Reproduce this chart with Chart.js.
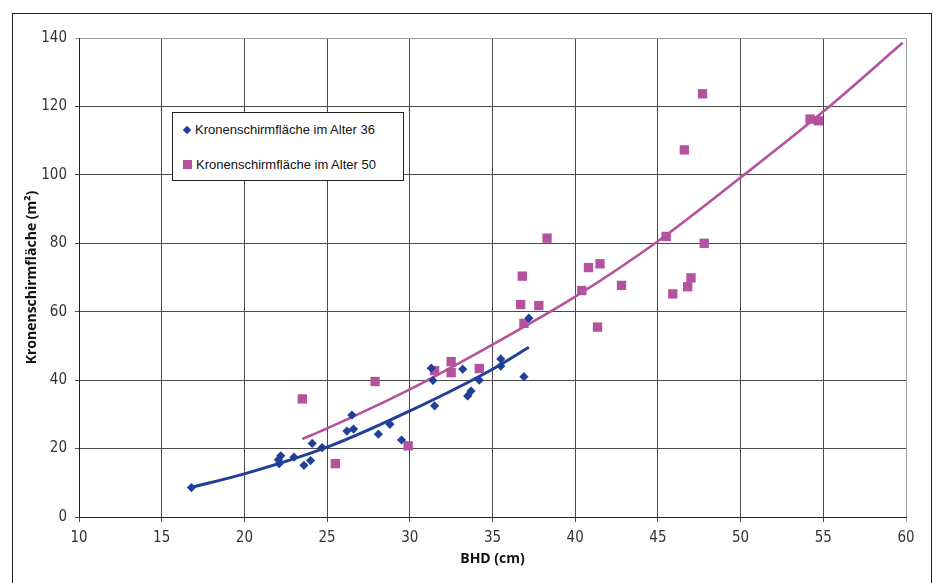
<!DOCTYPE html>
<html>
<head>
<meta charset="utf-8">
<script src="https://cdn.jsdelivr.net/npm/chart.js@4.4.1/dist/chart.umd.min.js"></script>
<style>
  html, body { margin: 0; padding: 0; background: #fff; }
  #wrap { position: relative; width: 936px; height: 583px; overflow: hidden; }
  #frame { position: absolute; left: 12px; top: 13px; width: 918px; height: 620px; border: 1px solid #222; pointer-events: none; }
  #legend { position: absolute; left: 172px; top: 112px; width: 230px; height: 67px; border: 1px solid #222; background: #fff;
            font-family: 'Liberation Sans', Arial, sans-serif; font-size: 13px; color: #111; }
  .item { position: absolute; left: 10px; height: 16px; line-height: 16px; white-space: nowrap; }
  .mk { display: inline-block; vertical-align: middle; margin-right: 4px; position: relative; top: -1px; }
  canvas { position: absolute; left: 0; top: 0; }
</style>
</head>
<body>
<div id="wrap">
  <canvas id="c" width="936" height="583"></canvas>
  <div id="frame"></div>
  <div id="legend"></div>
</div>
<script>
// ---- data ----
const series36Label = 'Kronenschirmfläche im Alter 36';
const series50Label = 'Kronenschirmfläche im Alter 50';

const bhd36 = [16.8, 22.05, 22.2, 22.1, 23.0, 23.6, 24.0, 24.1, 24.7, 26.2, 26.6, 26.5, 28.1, 28.8, 29.5, 31.3, 31.4, 31.5, 33.2, 33.5, 33.7, 34.2, 35.5, 35.5, 36.9, 37.2];
const kf36  = [8.6, 16.7, 17.9, 15.6, 17.5, 15.1, 16.5, 21.5, 20.3, 25.1, 25.7, 29.8, 24.2, 27.1, 22.5, 43.5, 39.9, 32.5, 43.2, 35.4, 36.8, 40.0, 46.2, 44.1, 41.0, 58.1];

const bhd50 = [23.5, 25.5, 27.9, 29.9, 31.5, 32.5, 32.5, 34.2, 36.7, 36.8, 36.9, 37.8, 38.3, 40.4, 40.8, 41.35, 41.5, 42.8, 45.5, 45.9, 46.6, 46.8, 47.0, 47.7, 47.8, 54.2, 54.7];
const kf50  = [34.5, 15.6, 39.6, 20.8, 42.8, 45.4, 42.2, 43.4, 62.1, 70.4, 56.6, 61.8, 81.5, 66.2, 72.9, 55.5, 74.0, 67.7, 82.0, 65.2, 107.3, 67.3, 69.9, 123.7, 80.0, 116.3, 115.8];

// trend curves
const trend36X = [16.8, 20, 25, 30, 35, 37.2];
const trend36Y = [8.7, 12.6, 20.4, 31.0, 43.2, 49.6];
const trend50X = [23.5, 25, 30, 35, 40, 45, 50, 55, 59.8];
const trend50Y = [22.8, 25.9, 37.3, 50.4, 64.4, 80.6, 99.2, 118.5, 138.6];

const xTicks = [10, 15, 20, 25, 30, 35, 40, 45, 50, 55, 60];
const yTicks = [0, 20, 40, 60, 80, 100, 120, 140];

const xTitle = 'BHD (cm)';
const yTitle = 'Kronenschirmfläche (m²)';

// ---- build ----
const blue = '#213f98';
const pink = '#b4529e';
const zip = (xs, ys) => xs.map((x, i) => ({ x, y: ys[i] }));

const tickFont = { family: "'Liberation Sans Narrow', 'DejaVu Sans Condensed', sans-serif", size: 15 };
const titleFont = { family: "'Open Sans', sans-serif", size: 14, weight: 'bold' };

new Chart(document.getElementById('c'), {
  type: 'scatter',
  data: {
    datasets: [
      { label: series36Label + ' trend', data: zip(trend36X, trend36Y), showLine: true, borderColor: blue, borderWidth: 3,
        pointRadius: 0, tension: 0.4, cubicInterpolationMode: 'monotone', order: 3 },
      { label: series50Label + ' trend', data: zip(trend50X, trend50Y), showLine: true, borderColor: pink, borderWidth: 2.6,
        pointRadius: 0, tension: 0.4, cubicInterpolationMode: 'monotone', order: 4 },
      { label: series50Label, data: zip(bhd50, kf50), pointStyle: 'rect', pointRadius: 6.6, backgroundColor: pink, borderColor: pink,
        borderWidth: 0, order: 2 },
      { label: series36Label, data: zip(bhd36, kf36), pointStyle: 'rectRot', pointRadius: 4.6, backgroundColor: blue, borderColor: blue,
        borderWidth: 0, order: 1 }
    ]
  },
  options: {
    responsive: false,
    animation: false,
    layout: { padding: { left: 0, top: 38, right: 30, bottom: 0 } },
    plugins: { legend: { display: false }, tooltip: { enabled: false } },
    scales: {
      x: {
        type: 'linear', min: 10, max: 60,
        afterBuildTicks: s => { s.ticks = xTicks.map(v => ({ value: v })); },
        afterFit: s => { s.height = 66; },
        grid: { color: c => (c.tick && c.tick.value === 60) ? '#a0a0a0' : '#4a4a4a', lineWidth: 1, tickLength: 5, drawTicks: true },
        border: { color: '#222', width: 1 },
        ticks: { color: '#333', font: tickFont, padding: 7, maxRotation: 0 },
        title: { display: true, text: xTitle, color: '#111', font: titleFont, padding: { top: 0, bottom: 16 } }
      },
      y: {
        type: 'linear', min: 0, max: 140,
        afterBuildTicks: s => { s.ticks = yTicks.map(v => ({ value: v })); },
        afterFit: s => { s.width = 79; },
        grid: { color: c => (c.tick && c.tick.value === 140) ? '#a0a0a0' : '#4a4a4a', lineWidth: 1, tickLength: 4, drawTicks: true },
        border: { color: '#222', width: 1 },
        ticks: { color: '#333', font: tickFont, padding: 8 },
        title: { display: true, text: yTitle, color: '#111', font: titleFont, padding: { top: 24, bottom: 0 } }
      }
    }
  }
});

// HTML legend built from the series labels
const legend = document.getElementById('legend');
[[series36Label, 'diamond', blue, 9], [series50Label, 'square', pink, 44]].forEach(([txt, shape, col, top]) => {
  const d = document.createElement('div');
  d.className = 'item';
  d.style.top = top + 'px';
  const m = document.createElement('span');
  m.className = 'mk';
  if (shape === 'diamond') {
    m.style.width = '6px'; m.style.height = '6px'; m.style.background = col; m.style.transform = 'rotate(45deg)';
    m.style.marginLeft = '1px'; m.style.marginRight = '5px';
  } else {
    m.style.width = '9px'; m.style.height = '9px'; m.style.background = col;
  }
  d.appendChild(m);
  d.appendChild(document.createTextNode(txt));
  legend.appendChild(d);
});
</script>
</body>
</html>
